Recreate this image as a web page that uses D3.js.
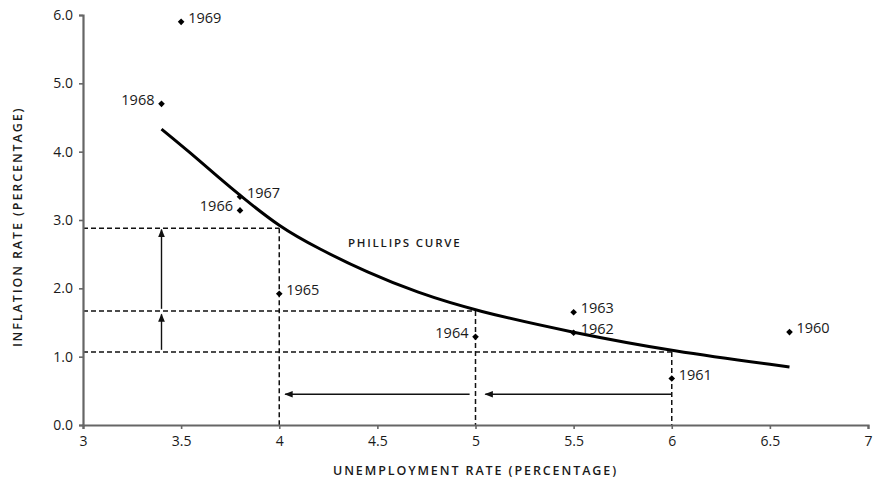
<!DOCTYPE html>
<html lang="en">
	<head>
		<meta charset="utf-8">
		<title>Phillips Curve</title>
		<script type="text/javascript" src="https://d3js.org/d3.v7.min.js"></script>
		<style>
			body { margin: 0; background: #fff; }
			text { font-family: "Open Sans", "DejaVu Sans", sans-serif; fill: #1a1a1a; }
		</style>
	</head>
	<body>
		<svg id="chart"></svg>
		<script>

			// yearly observations
			var years = ["1960","1961","1962","1963","1964","1965","1966","1967","1968","1969"];
			var unemployment = [6.6, 6.0, 5.5, 5.5, 5.0, 4.0, 3.8, 3.8, 3.4, 3.5];
			var inflation = [1.36, 0.68, 1.35, 1.65, 1.29, 1.92, 3.14, 3.34, 4.70, 5.90];
			// which side the year label goes
			var labelSide = ["r","r","r","r","l","r","l","r","l","r"];

			// points
			var curveX = [3.4, 3.54, 3.7, 3.8, 4.0, 4.2, 4.45, 4.7, 5.0, 5.5, 6.0, 6.6];
			var curveY = [4.33, 4.0, 3.6, 3.36, 2.9, 2.58, 2.23, 1.94, 1.67, 1.35, 1.08, 0.85];

			// guide levels
			var guideX = [4, 5, 6];
			var guideY = [2.88, 1.67, 1.07];

			var xTicks = [3, 3.5, 4, 4.5, 5, 5.5, 6, 6.5, 7];
			var xTickLabels = ["3","3.5","4","4.5","5","5.5","6","6.5","7"];
			var yTicks = [0, 1, 2, 3, 4, 5, 6];

			var width = 879;
			var height = 485;
			var border = {left:83, right:11, top:15, bottom:60};

			var svg = d3.select("#chart")
				.attr("width", width)
				.attr("height", height);

			var xScale = d3.scaleLinear()
				.domain([3, 7])
				.range([border.left, width - border.right]);

			var yScale = d3.scaleLinear()
				.domain([0, 6])
				.range([height - border.bottom, border.top]);

			svg.append("defs").append("marker")
				.attr("id", "head")
				.attr("viewBox", "0 0 10 10")
				.attr("refX", 9)
				.attr("refY", 5)
				.attr("markerWidth", 6)
				.attr("markerHeight", 6)
				.attr("orient", "auto")
				.append("path")
				.attr("d", "M0,1 L10,5 L0,9 Z")
				.attr("fill", "#111");

			// dashed guides
			var guides = svg.append("g")
				.attr("stroke", "#111")
				.attr("stroke-width", 1.5)
				.attr("stroke-dasharray", "5,3");

			guideX.forEach(function(gx, i){
				guides.append("line")
					.attr("x1", xScale(3)).attr("x2", xScale(gx))
					.attr("y1", yScale(guideY[i])).attr("y2", yScale(guideY[i]));
				guides.append("line")
					.attr("x1", xScale(gx)).attr("x2", xScale(gx))
					.attr("y1", yScale(guideY[i])).attr("y2", yScale(0));
			});

			// arrows
			var arrows = svg.append("g")
				.attr("stroke", "#111")
				.attr("stroke-width", 1.4)
				.attr("marker-end", "url(#head)");

			arrows.append("line")
				.attr("x1", xScale(3.4)).attr("x2", xScale(3.4))
				.attr("y1", yScale(1.1)).attr("y2", yScale(1.62));
			arrows.append("line")
				.attr("x1", xScale(3.4)).attr("x2", xScale(3.4))
				.attr("y1", yScale(1.7)).attr("y2", yScale(2.86));
			arrows.append("line")
				.attr("x1", xScale(6)).attr("x2", xScale(5.05))
				.attr("y1", yScale(0.45)).attr("y2", yScale(0.45));
			arrows.append("line")
				.attr("x1", xScale(4.97)).attr("x2", xScale(4.03))
				.attr("y1", yScale(0.45)).attr("y2", yScale(0.45));

			// curve
			var line = d3.line()
				.x(d => xScale(d[0]))
				.y(d => yScale(d[1]))
				.curve(d3.curveBasis);

			svg.append("path")
				.datum(d3.zip(curveX, curveY))
				.attr("d", line)
				.attr("fill", "none")
				.attr("stroke", "#000")
				.attr("stroke-width", 3);

			svg.append("text")
				.attr("x", xScale(4.35))
				.attr("y", yScale(2.6))
				.attr("font-size", 11.5)
				.attr("font-weight", 600)
				.attr("letter-spacing", 1.8)
				.text("PHILLIPS CURVE");

			// axes
			var xAxis = d3.axisBottom(xScale)
				.tickValues(xTicks)
				.tickFormat((d, i) => xTickLabels[i])
				.tickSize(4)
				.tickPadding(7);

			var yAxis = d3.axisLeft(yScale)
				.tickValues(yTicks)
				.tickFormat(d3.format(".1f"))
				.tickSize(4)
				.tickPadding(6);

			var gx = svg.append("g")
				.attr("transform", "translate(0," + yScale(0) + ")")
				.call(xAxis);
			var gy = svg.append("g")
				.attr("transform", "translate(" + xScale(3) + ",0)")
				.call(yAxis);

			[gx, gy].forEach(function(g){
				g.select(".domain").attr("stroke", "#666").attr("stroke-width", 2.2);
				g.selectAll(".tick line").attr("stroke", "#666").attr("stroke-width", 1.6);
				g.selectAll(".tick text")
					.attr("font-size", 14)
					.attr("font-family", "\"Open Sans\", sans-serif")
					.attr("fill", "#222");
			});

			// points
			var pts = svg.append("g");
			pts.selectAll("path")
				.data(years)
				.enter()
				.append("path")
				.attr("transform", (d, i) => "translate(" + xScale(unemployment[i]) + "," + yScale(inflation[i]) + ") rotate(45)")
				.attr("d", d3.symbol().type(d3.symbolSquare).size(22))
				.attr("fill", "#000");

			pts.selectAll("text")
				.data(years)
				.enter()
				.append("text")
				.attr("x", (d, i) => xScale(unemployment[i]) + (labelSide[i] == "r" ? 7 : -7))
				.attr("y", (d, i) => yScale(inflation[i]) + 1)
				.attr("text-anchor", (d, i) => labelSide[i] == "r" ? "start" : "end")
				.attr("font-size", 14.5)
				.text(d => d);

			// titles
			svg.append("text")
				.attr("x", (xScale(3) + xScale(7)) / 2)
				.attr("y", 475)
				.attr("text-anchor", "middle")
				.attr("font-size", 12.5)
				.attr("font-weight", 600)
				.attr("letter-spacing", 1.9)
				.text("UNEMPLOYMENT RATE (PERCENTAGE)");

			svg.append("text")
				.attr("transform", "translate(22," + yScale(2.9) + ") rotate(-90)")
				.attr("text-anchor", "middle")
				.attr("font-size", 12.5)
				.attr("font-weight", 600)
				.attr("letter-spacing", 1.9)
				.text("INFLATION RATE (PERCENTAGE)");
		</script>
	</body>
</html>
